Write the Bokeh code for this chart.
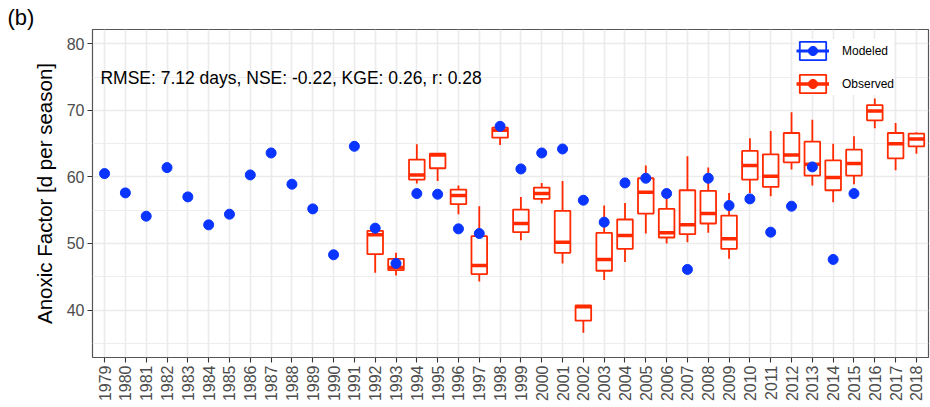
import math
from bokeh.plotting import figure
from bokeh.models import ColumnDataSource, Range1d, FixedTicker, Label, Legend, LegendItem
from bokeh.embed import file_html
from bokeh.resources import INLINE

# ---- data ----
years = list(range(1979, 2019))
year_labels = [str(y) for y in years]
y_ticks = [40, 50, 60, 70, 80]
y_minor = [35, 45, 55, 65, 75]

mod_years = list(range(1979, 2016))
modeled = [60.5, 57.6, 54.1, 61.4, 57.0, 52.8, 54.4, 60.3, 63.6, 58.9,
           55.2, 48.3, 64.6, 52.3, 47.0, 57.5, 57.4, 52.2, 51.5, 67.6,
           61.2, 63.6, 64.2, 56.5, 53.2, 59.1, 59.8, 57.5, 46.1, 59.8,
           55.7, 56.7, 51.7, 55.6, 61.5, 47.6, 57.5]

obs_years = list(range(1992, 2019))
obs_low = [45.6, 45.2, 59.0, 59.4, 54.4, 44.3, 64.8, 50.5, 56.0, 47.0,
           36.6, 44.5, 47.2, 51.5, 50.0, 50.2, 51.6, 47.7, 57.6, 57.1,
           61.1, 58.7, 56.2, 58.9, 67.3, 61.0, 63.5]
obs_q1 = [48.4, 46.0, 59.6, 61.3, 55.9, 45.4, 65.9, 51.7, 56.7, 48.6,
          38.4, 45.9, 49.2, 54.5, 50.9, 51.4, 53.0, 49.2, 59.6, 58.5,
          62.2, 60.2, 58.0, 60.2, 68.5, 62.8, 64.6]
obs_med = [51.3, 46.4, 60.3, 63.3, 57.2, 46.7, 67.0, 53.0, 57.5, 50.2,
           40.5, 47.6, 51.2, 57.7, 51.6, 52.8, 54.5, 50.7, 61.7, 60.1,
           63.3, 61.9, 59.9, 62.0, 69.9, 65.0, 65.7]
obs_q3 = [51.9, 47.7, 62.6, 63.5, 58.1, 51.1, 67.4, 55.1, 58.4, 54.9,
          40.7, 51.6, 53.6, 59.8, 55.2, 58.0, 57.9, 54.2, 63.9, 63.4,
          66.6, 65.3, 62.5, 64.1, 70.8, 66.6, 66.5]
obs_high = [52.2, 48.6, 64.9, 63.5, 58.7, 55.6, 67.7, 57.0, 59.1, 59.4,
            40.7, 55.7, 56.1, 61.7, 58.1, 63.1, 61.4, 57.6, 65.8, 66.9,
            69.7, 68.6, 65.0, 66.1, 71.8, 68.1, 66.7]

stats_text = "RMSE: 7.12 days, NSE: -0.22, KGE: 0.26, r: 0.28"
panel_tag = "(b)"
y_title = "Anoxic Factor [d per season]"
series_names = ["Modeled", "Observed"]

# ---- style ----
FONT = "Liberation Sans"
BLUE = "#0a34ff"
RED = "#ff2a00"
GRID = "#ebebeb"
BOX_W = 0.75
X0, X1 = 1978.42, 2018.58
Y0, Y1 = 32.87, 82.15

p = figure(width=930, height=407, output_backend="svg", toolbar_location=None,
           x_range=Range1d(X0, X1), y_range=Range1d(Y0, Y1),
           min_border_left=92, min_border_right=2, min_border_top=29,
           min_border_bottom=50, title=panel_tag)
p.background_fill_color = "white"
p.border_fill_color = "white"
p.outline_line_color = "#555555"
p.outline_line_width = 1.2

p.title.align = "left"
p.title.offset = -85
p.title.standoff = 0
p.title.text_font = FONT
p.title.text_font_size = "22px"
p.title.text_font_style = "normal"
p.title.text_color = "black"
p.title.text_line_height = 1.0

xt = FixedTicker(ticks=years)
yt = FixedTicker(ticks=y_ticks, minor_ticks=y_minor)
p.xaxis.ticker = xt
p.yaxis.ticker = yt
p.xgrid.ticker = xt
p.ygrid.ticker = yt
p.xaxis.major_label_overrides = {y: l for y, l in zip(years, year_labels)}
p.xaxis.major_label_orientation = math.pi / 2

for ax in p.axis:
    ax.axis_line_color = None
    ax.major_tick_line_color = "#333333"
    ax.major_tick_line_width = 1.1
    ax.major_tick_out = 5
    ax.major_tick_in = 0
    ax.minor_tick_line_color = None
    ax.major_label_text_font = FONT
    ax.major_label_text_font_size = "16px"
    ax.major_label_text_color = "#4d4d4d"
    ax.major_label_standoff = 3

p.yaxis.axis_label = y_title
p.yaxis.axis_label_text_font = FONT
p.yaxis.axis_label_text_font_size = "20.5px"
p.yaxis.axis_label_text_font_style = "normal"
p.yaxis.axis_label_text_color = "black"
p.yaxis.axis_label_standoff = 8

p.xgrid.grid_line_color = GRID
p.xgrid.grid_line_width = 1.6
p.ygrid.grid_line_color = GRID
p.ygrid.grid_line_width = 1.6
p.ygrid.minor_grid_line_color = GRID
p.ygrid.minor_grid_line_width = 0.9

# ---- boxes ----
src = ColumnDataSource(dict(
    x=obs_years, lo=obs_low, q1=obs_q1, med=obs_med, q3=obs_q3, hi=obs_high,
    xl=[x - BOX_W / 2 for x in obs_years], xr=[x + BOX_W / 2 for x in obs_years]))

p.segment(x0="x", y0="lo", x1="x", y1="q1", source=src, line_color=RED, line_width=1.8)
p.segment(x0="x", y0="q3", x1="x", y1="hi", source=src, line_color=RED, line_width=1.8)
box_r = p.vbar(x="x", width=BOX_W, bottom="q1", top="q3", source=src,
               fill_color="white", line_color=RED, line_width=1.8)
med_r = p.segment(x0="xl", y0="med", x1="xr", y1="med", source=src,
                  line_color=RED, line_width=3.5)

mod_src = ColumnDataSource(dict(x=mod_years, y=modeled))
mod_r = p.scatter(x="x", y="y", source=mod_src, size=10, fill_color=BLUE, line_color=BLUE)

# legend proxies (one invisible NaN row so the legend can draw them)
nan = float("nan")
proxy = ColumnDataSource(dict(x=[nan], y=[nan], x0=[nan], x1=[nan], top=[nan], bottom=[nan]))
mbox = p.vbar(x="x", width=BOX_W, bottom="bottom", top="top", source=proxy,
              fill_color="white", line_color=BLUE, line_width=1.8)
mmed = p.segment(x0="x0", y0="y", x1="x1", y1="y", source=proxy,
                 line_color=BLUE, line_width=3.0)
odot = p.scatter(x="x", y="y", source=proxy, size=10, fill_color=RED, line_color=RED)

legend = Legend(items=[LegendItem(label=series_names[0], renderers=[mbox, mmed, mod_r]),
                       LegendItem(label=series_names[1], renderers=[box_r, med_r, odot])],
                location=(704, 262), orientation="vertical",
                glyph_width=33, glyph_height=23, spacing=10, padding=5, margin=0,
                label_standoff=13, label_text_font=FONT, label_text_font_size="12px",
                label_text_color="black", background_fill_color="white",
                background_fill_alpha=1.0, border_line_color=None)
p.add_layout(legend)

p.add_layout(Label(x=1978.8, y=74.9, text=stats_text, text_font=FONT,
                   text_font_size="17.5px", text_color="black",
                   text_align="left", text_baseline="middle"))

open("out.html", "w").write(file_html(p, INLINE))
